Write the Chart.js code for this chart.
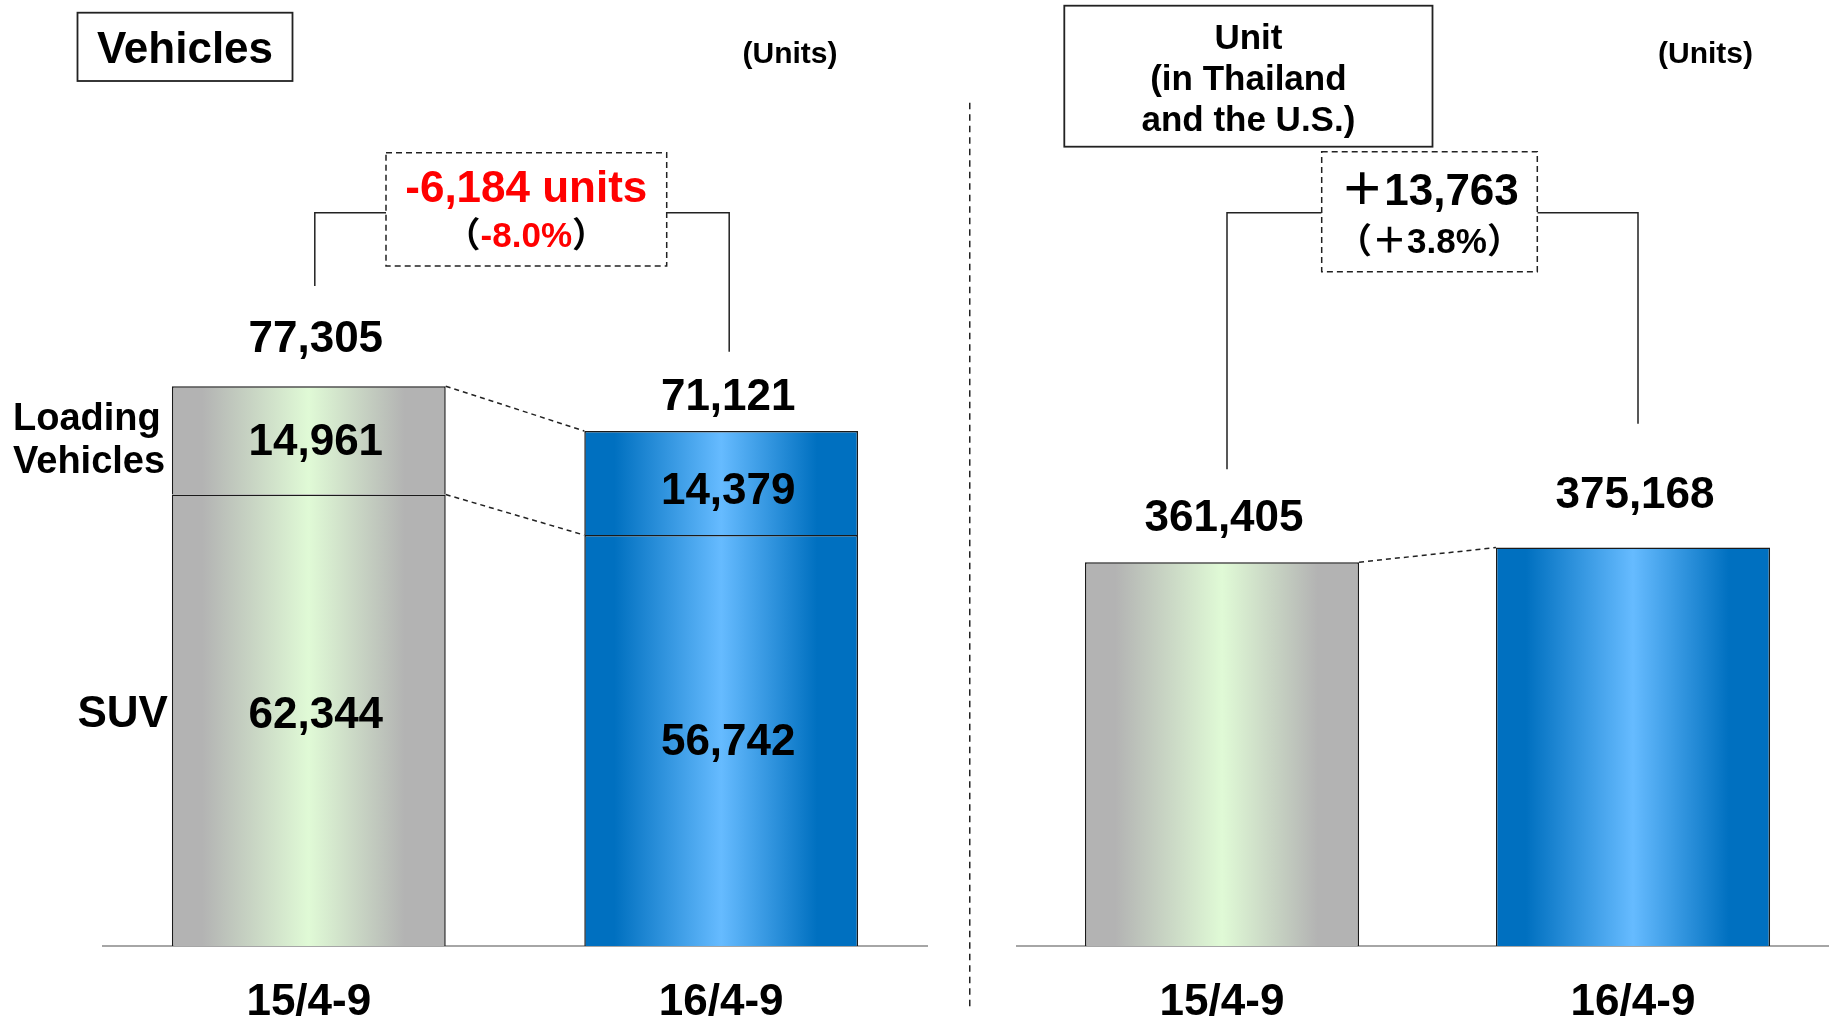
<!DOCTYPE html>
<html>
<head>
<meta charset="utf-8">
<title>Vehicles / Unit</title>
<script src="https://cdn.jsdelivr.net/npm/chart.js@4.4.1/dist/chart.umd.min.js"></script>
<style>
  html, body { margin: 0; padding: 0; background: #fff; overflow: hidden; }
  #wrap { position: relative; width: 1829px; height: 1016px; overflow: hidden; }
  #left { position: absolute; left: 0; top: 0; width: 975px; height: 1016px; }
  #right { position: absolute; left: 971px; top: 0; width: 870px; height: 1016px; }
</style>
</head>
<body>
<div id="wrap">
  <canvas id="left" width="975" height="1016"></canvas>
  <canvas id="right" width="870" height="1016"></canvas>
</div>
<script>
// periods and unit counts
const periods = ['15/4-9', '16/4-9'];
const suvUnits = [62344, 56742];
const loadingUnits = [14961, 14379];
const unitTotals = [361405, 375168];

const FONT = '"Liberation Sans", Arial, "Noto Sans CJK JP", sans-serif';
const bold = (size) => `bold ${size}px ${FONT}`;
const fmt = (n) => n.toLocaleString('en-US');

// edge colour / centre colour of each period's bar
const barColors = [
  ['#b3b3b3', '#e0fad6'],
  ['#0070c0', '#66bbff']
];

function makeFill(barPct) {
  return function (c) {
    const chart = c.chart;
    const [edge, mid] = barColors[c.dataIndex];
    if (!chart.chartArea) return edge;
    const x = chart.scales.x;
    const cx = x.getPixelForValue(c.dataIndex);
    const half = x.width / periods.length * barPct / 2;
    const g = chart.ctx.createLinearGradient(cx - half, 0, cx + half, 0);
    g.addColorStop(0, edge);
    g.addColorStop(0.11, edge);
    g.addColorStop(0.5, mid);
    g.addColorStop(0.85, edge);
    g.addColorStop(1, edge);
    return g;
  };
}

function panelOptions(yMax, padding) {
  return {
    responsive: false,
    animation: false,
    events: [],
    layout: { padding },
    plugins: { legend: { display: false }, tooltip: { enabled: false } },
    scales: {
      x: {
        stacked: true,
        grid: { display: false, drawTicks: false },
        border: { display: true, color: '#a6a6a6', width: 2 },
        ticks: { color: '#000', padding: 30, font: { family: FONT, size: 44, weight: 'bold' } },
        afterFit: (axis) => { axis.height = 70; }
      },
      y: { stacked: true, display: false, min: 0, max: yMax }
    }
  };
}

function barDataset(label, data, barPct) {
  return {
    label,
    data,
    backgroundColor: makeFill(barPct),
    borderColor: '#1a1a1a',
    borderWidth: 1.5,
    barPercentage: barPct,
    categoryPercentage: 1
  };
}

// helpers for the annotation layer
function text(ctx, str, x, y, size, align, color) {
  ctx.font = bold(size);
  ctx.fillStyle = color || '#000';
  ctx.textAlign = align || 'center';
  ctx.textBaseline = 'alphabetic';
  ctx.fillText(str, x, y);
}

function textRun(ctx, parts, cx, y) {
  let total = 0;
  parts.forEach(p => { ctx.font = bold(p.size); p.w = ctx.measureText(p.text).width; total += p.w; });
  let x = cx - total / 2;
  ctx.textAlign = 'left';
  ctx.textBaseline = 'alphabetic';
  parts.forEach(p => {
    ctx.font = bold(p.size);
    ctx.fillStyle = p.color;
    ctx.fillText(p.text, x, y);
    x += p.w;
  });
}

function dashedLine(ctx, pts, dash) {
  ctx.save();
  ctx.strokeStyle = '#222';
  ctx.lineWidth = 1.5;
  ctx.setLineDash(dash);
  ctx.beginPath();
  ctx.moveTo(pts[0], pts[1]);
  ctx.lineTo(pts[2], pts[3]);
  ctx.stroke();
  ctx.restore();
}

function box(ctx, x, y, w, h, dash) {
  ctx.save();
  ctx.strokeStyle = '#222';
  ctx.lineWidth = dash ? 1.5 : 1.8;
  ctx.setLineDash(dash || []);
  ctx.fillStyle = '#fff';
  ctx.fillRect(x, y, w, h);
  ctx.strokeRect(x, y, w, h);
  ctx.restore();
}

function bracket(ctx, x1, y1, boxL, boxR, x2, y2, top) {
  ctx.save();
  ctx.strokeStyle = '#222';
  ctx.lineWidth = 1.5;
  ctx.beginPath();
  ctx.moveTo(x1, y1);
  ctx.lineTo(x1, top);
  ctx.lineTo(boxL, top);
  ctx.moveTo(boxR, top);
  ctx.lineTo(x2, top);
  ctx.lineTo(x2, y2);
  ctx.stroke();
  ctx.restore();
}

// left panel: SUV + loading vehicles
const vehicleLayer = {
  id: 'vehicleLayer',
  afterDraw(chart) {
    const ctx = chart.ctx;
    const suv = chart.getDatasetMeta(0).data;
    const load = chart.getDatasetMeta(1).data;
    const totals = suvUnits.map((v, i) => v + loadingUnits[i]);

    // dashed links between the two stacks
    dashedLine(ctx, [load[0].x + load[0].width / 2, load[0].y, load[1].x - load[1].width / 2, load[1].y], [5, 4]);
    dashedLine(ctx, [suv[0].x + suv[0].width / 2, suv[0].y, suv[1].x - suv[1].width / 2, suv[1].y], [5, 4]);

    // values inside each segment and totals on top
    const totalGap = [34, 21];
    const segShift = [0, 6];
    for (let i = 0; i < periods.length; i++) {
      const cx = suv[i].x + 7;
      text(ctx, fmt(loadingUnits[i]), cx, (load[i].y + load[i].base) / 2 + 15 + segShift[i], 44);
      text(ctx, fmt(suvUnits[i]), cx, (suv[i].y + suv[i].base) / 2 + 8 + segShift[i], 44);
      text(ctx, fmt(totals[i]), cx, load[i].y - totalGap[i], 44);
    }

    // series names left of the first stack
    text(ctx, 'Loading', 13, 430, 38, 'left');
    text(ctx, 'Vehicles', 13, 473, 38, 'left');
    text(ctx, 'SUV', suv[0].x - suv[0].width / 2 - 4, 727, 44, 'right');

    // header
    box(ctx, 77.5, 12.7, 215, 68.3);
    text(ctx, 'Vehicles', 185, 62.5, 44);
    text(ctx, '(Units)', 790, 63, 30);

    // change between periods
    const diff = totals[1] - totals[0];
    const pct = (diff / totals[0] * 100).toFixed(1);
    bracket(ctx, suv[0].x + 6, 286, 386, 666.7, suv[1].x + 8, 351.7, 212.7);
    box(ctx, 386, 152.7, 280.7, 113.3, [6, 4]);
    text(ctx, (diff < 0 ? '-' : '+') + fmt(Math.abs(diff)) + ' units', 526.3, 201.7, 44, 'center', '#ff0000');
    textRun(ctx, [
      { text: '（', size: 35, color: '#000' },
      { text: (diff < 0 ? '' : '+') + pct + '%', size: 35, color: '#ff0000' },
      { text: '）', size: 35, color: '#000' }
    ], 526.3, 246.7);

    // divider between the panels
    dashedLine(ctx, [969.75, 102.7, 969.75, 1008], [6.5, 5]);
  }
};

// right panel: unit totals
const unitLayer = {
  id: 'unitLayer',
  afterDraw(chart) {
    const ctx = chart.ctx;
    const bars = chart.getDatasetMeta(0).data;

    dashedLine(ctx, [bars[0].x + bars[0].width / 2, bars[0].y, bars[1].x - bars[1].width / 2, bars[1].y], [5, 4]);

    const totalGap = [31, 40];
    for (let i = 0; i < periods.length; i++) {
      text(ctx, fmt(unitTotals[i]), bars[i].x + 2, bars[i].y - totalGap[i], 44);
    }

    box(ctx, 93.3, 5.7, 368.2, 141);
    text(ctx, 'Unit', 277.4, 48.5, 35);
    text(ctx, '(in Thailand', 277.4, 89.5, 35);
    text(ctx, 'and the U.S.)', 277.4, 130.5, 35);
    text(ctx, '(Units)', 734.5, 63, 30);

    const diff = unitTotals[1] - unitTotals[0];
    const pct = (diff / unitTotals[0] * 100).toFixed(1);
    const sign = diff < 0 ? '-' : '＋';
    bracket(ctx, bars[0].x + 5, 469.2, 350.7, 566.3, bars[1].x + 5, 423.8, 212.7);
    box(ctx, 350.7, 151.7, 215.6, 120, [6, 4]);
    textRun(ctx, [
      { text: sign, size: 44, color: '#000' },
      { text: fmt(Math.abs(diff)), size: 44, color: '#000' }
    ], 458.5, 205);
    textRun(ctx, [
      { text: '（' + sign, size: 35, color: '#000' },
      { text: pct + '%', size: 35, color: '#000' },
      { text: '）', size: 35, color: '#000' }
    ], 458.5, 253);
  }
};

new Chart(document.getElementById('left'), {
  type: 'bar',
  data: {
    labels: periods,
    datasets: [
      barDataset('SUV', suvUnits, 0.664),
      barDataset('Loading Vehicles', loadingUnits, 0.664)
    ]
  },
  options: panelOptions(120000, { top: 77, left: 102.6, right: 47.6, bottom: 0 }),
  plugins: [vehicleLayer]
});

new Chart(document.getElementById('right'), {
  type: 'bar',
  data: {
    labels: periods,
    datasets: [barDataset('Unit', unitTotals, 0.667)]
  },
  options: panelOptions(800000, { top: 96.4, left: 45.5, right: 2.5, bottom: 0 }),
  plugins: [unitLayer]
});
</script>
</body>
</html>
